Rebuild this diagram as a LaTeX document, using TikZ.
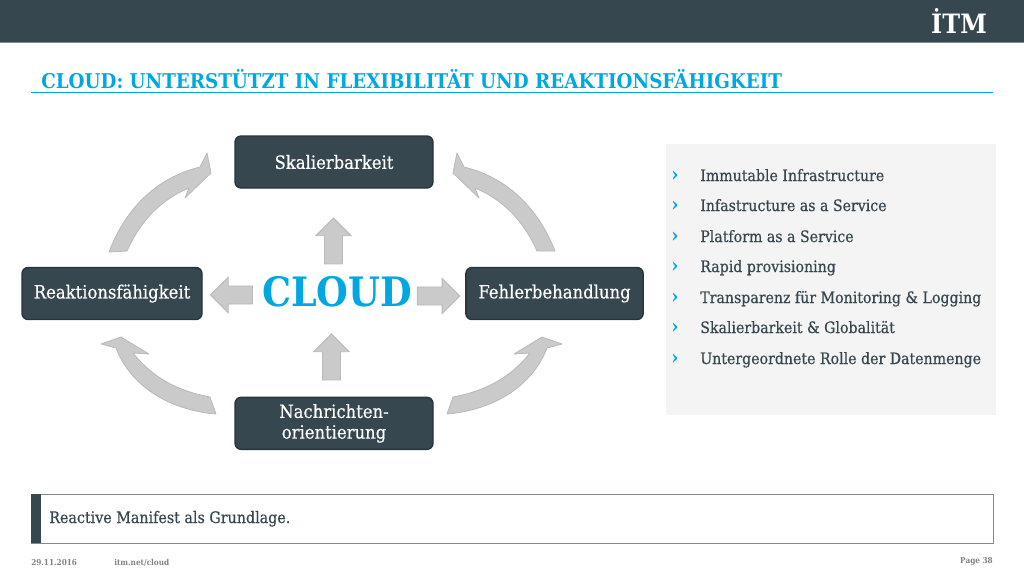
\documentclass[tikz,border=0pt]{standalone}
\usepackage{fontspec}
\setmainfont{DejaVu Serif Condensed}
\newfontfamily\slabfont{DejaVu Serif Condensed}[FakeBold=0.5]
\usepackage{xcolor}
\usetikzlibrary{shapes.arrows, positioning}
\definecolor{darkslate}{RGB}{54,71,79}
\definecolor{edgeslate}{RGB}{38,52,60}
\definecolor{cloudblue}{RGB}{0,167,224}
\definecolor{arrowgray}{RGB}{202,202,202}
\definecolor{arrowedge}{RGB}{185,185,185}
\definecolor{panelgray}{RGB}{244,244,244}
\definecolor{footgray}{RGB}{130,130,130}
\definecolor{notegray}{RGB}{125,140,146}

\begin{document}
\begin{tikzpicture}[
    x=0.75pt, y=-0.75pt,
    block/.style={rectangle, draw=edgeslate, line width=1pt, fill=darkslate, rounded corners=4.5pt, minimum width=148.5pt, minimum height=39pt, inner sep=0pt, font=\slabfont\fontsize{13.7}{15.5}\selectfont, text=white, align=center},
    blockarrow/.style={single arrow, draw=arrowedge, fill=arrowgray, line width=0.6pt, inner xsep=0pt, inner ysep=6.5pt, minimum height=34.5pt, single arrow head extend=6.5pt},
    curvearrow/.style={draw=arrowedge, fill=arrowgray, line width=0.6pt, line join=round},
    bullet/.style={anchor=base west, inner sep=0pt, font=\slabfont\fontsize{11.8}{13}\selectfont, text=darkslate},
    chevron/.style={anchor=base west, inner sep=0pt, font=\fontsize{15}{15}\selectfont\bfseries, text=cloudblue},
    foot/.style={inner sep=0pt, font=\fontsize{6.1}{8}\selectfont\bfseries, text=footgray}
]
\useasboundingbox (0,0) rectangle (1024,576);

% header and title
\fill[darkslate] (0,0) rectangle (1024,42);
\draw[notegray, line width=0.6pt] (0,42.5) -- (1024,42.5);
\node[inner sep=0pt, text=white, font=\fontsize{20}{22}\selectfont\bfseries] (logo) at (959,21) {İTM};
\node[anchor=base west, inner sep=0pt, text=cloudblue, font=\fontsize{15.26}{17}\selectfont\bfseries] (title) at (41,88) {CLOUD: UNTERSTÜTZT IN FLEXIBILITÄT UND REAKTIONSFÄHIGKEIT};
\draw[cloudblue, line width=1.1pt] (31,92.5) -- (993,92.5);

% blocks
\node[block] (skal) at (334,162) {Skalierbarkeit};
\node[block, below=156pt of skal] (nach) {Nachrichten-\\orientierung};
\node[block, minimum width=135pt] (reakt) at (112,293.5) {Reaktionsfähigkeit};
\node[block, minimum width=133pt] (fehler) at (554.5,293.5) {Fehlerbehandlung};
\node[text=cloudblue, inner sep=0pt, font=\fontsize{30.4}{33}\selectfont\bfseries] (cloud) at (337,292) {CLOUD};

% straight arrows
\node[blockarrow, rotate=90] (toskal) at (333.5,245.5) {};
\node[blockarrow, rotate=90] (fromnach) at (331.5,361.5) {};
\node[blockarrow, rotate=180, minimum height=31.5pt] (toreakt) at (236,295) {};
\node[blockarrow, minimum height=32pt] (tofehler) at (434,296) {};

% curved arrows
\draw[curvearrow] (109,252) .. controls (125,210) and (155,178) .. (200,167) -- (207,153) -- (211,173) -- (185,198) -- (189,188) .. controls (160,200) and (140,222) .. (127,251) -- cycle;
\draw[curvearrow] (555,251) .. controls (539,210) and (509,178) .. (464,167) -- (457,153) -- (453,173) -- (479,198) -- (475,188) .. controls (504,200) and (524,222) .. (537,251) -- cycle;
\draw[curvearrow] (447,414) .. controls (495,410) and (533,385) .. (547,348) -- (562,344) -- (542,337) -- (514,354) -- (530,353) .. controls (510,378) and (485,391) .. (453,397) -- cycle;
\draw[curvearrow] (216,414) .. controls (168,410) and (130,385) .. (116,348) -- (101,344) -- (121,337) -- (149,354) -- (133,353) .. controls (153,378) and (178,391) .. (210,397) -- cycle;

% list panel
\fill[panelgray] (666,144) rectangle (996,415);
\foreach \ypos/\itemtext in {181/Immutable Infrastructure, 211/Infastructure as a Service, 242/Platform as a Service, 272/Rapid provisioning, 303/Transparenz für Monitoring \& Logging, 333/Skalierbarkeit \& Globalität, 364/Untergeordnete Rolle der Datenmenge} {
    \node[chevron] (chev\ypos) at (671,\ypos) {›};
    \node[bullet] (item\ypos) at (700,\ypos) {\itemtext};
}

% note bar and footer
\draw[draw=notegray, line width=0.6pt] (31,494) rectangle (993,543);
\fill[darkslate] (31,494) rectangle (41,543);
\node[anchor=base west, inner sep=0pt, text=darkslate, font=\slabfont\fontsize{11.9}{13}\selectfont] (note) at (49,523) {Reactive Manifest als Grundlage.};
\node[foot, anchor=west] (date) at (31,562.5) {29.11.2016};
\node[foot, anchor=west] (web) at (114,562.5) {itm.net/cloud};
\node[foot, anchor=east] (page) at (993,561.5) {Page 38};
\end{tikzpicture}
\end{document}
